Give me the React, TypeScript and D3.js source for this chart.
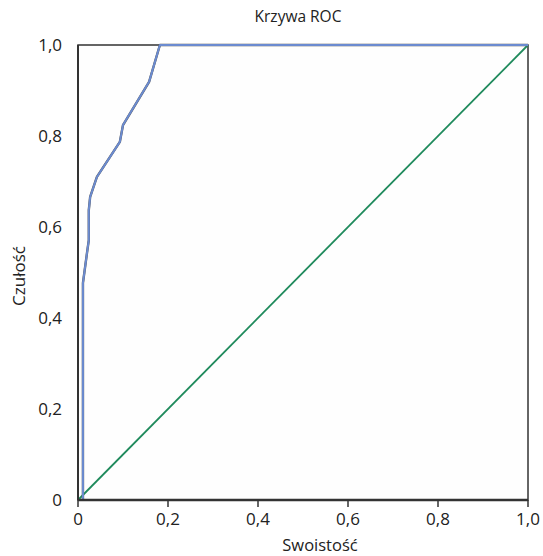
import React, { useRef, useEffect } from 'react'
import * as d3 from 'd3'

// ROC curve points
const rocX = [0.011, 0.011, 0.02, 0.024, 0.024, 0.027, 0.042, 0.093, 0.1, 0.158, 0.182, 1.0]
const rocY = [0, 0.477, 0.543, 0.571, 0.637, 0.666, 0.71, 0.787, 0.824, 0.919, 1.0, 1.0]
const diagX = [0, 1]
const diagY = [0, 1]
const ticks = [0, 0.2, 0.4, 0.6, 0.8, 1.0]
const tickLabels = ['0', '0,2', '0,4', '0,6', '0,8', '1,0']

const layout = { width: 543, height: 556, left: 78, right: 528, top: 45, bottom: 500 }
const font = '"Open Sans", "Noto Sans", sans-serif'

export default function App() {
  const ref = useRef<SVGSVGElement>(null)

  useEffect(() => {
    const svg = d3.select(ref.current)
    svg.selectAll('*').remove()

    const x = d3.scaleLinear().domain([0, 1]).range([layout.left, layout.right])
    const y = d3.scaleLinear().domain([0, 1]).range([layout.bottom, layout.top])

    // frame
    svg.append('rect')
      .attr('x', layout.left).attr('y', layout.top)
      .attr('width', layout.right - layout.left).attr('height', layout.bottom - layout.top)
      .attr('fill', '#fefefe').attr('stroke', '#333').attr('stroke-width', 1.5)

    // diagonal
    const line = d3.line<[number, number]>().x(d => x(d[0])).y(d => y(d[1]))
    svg.append('path')
      .attr('d', line(diagX.map((v, i) => [v, diagY[i]])))
      .attr('fill', 'none').attr('stroke', '#1f8a5c').attr('stroke-width', 1.8)

    // roc curve (dark underlay + blue)
    const pts = rocX.map((v, i) => [v, rocY[i]] as [number, number])
    const roc = d3.line<[number, number]>().x(d => x(d[0])).y(d => y(d[1]))
    svg.append('path')
      .attr('d', roc(pts))
      .attr('fill', 'none').attr('stroke', '#555').attr('stroke-width', 2.4)
      .attr('stroke-linejoin', 'round')
    svg.append('path')
      .attr('d', roc(pts))
      .attr('fill', 'none').attr('stroke', '#6b8bd0').attr('stroke-width', 2)
      .attr('stroke-linejoin', 'round')

    // axes
    svg.append('line')
      .attr('x1', layout.left).attr('x2', layout.right)
      .attr('y1', layout.bottom).attr('y2', layout.bottom)
      .attr('stroke', '#333').attr('stroke-width', 2.5)
    svg.append('line')
      .attr('x1', layout.left).attr('x2', layout.left)
      .attr('y1', layout.top).attr('y2', layout.bottom)
      .attr('stroke', '#333').attr('stroke-width', 2)

    svg.append('g').selectAll('line')
      .data(ticks).join('line')
      .attr('x1', d => x(d)).attr('x2', d => x(d))
      .attr('y1', layout.bottom).attr('y2', layout.bottom + 7)
      .attr('stroke', '#333').attr('stroke-width', 1.5)

    svg.append('g').selectAll('text')
      .data(ticks).join('text')
      .attr('x', d => x(d)).attr('y', layout.bottom + 25)
      .attr('text-anchor', 'middle')
      .attr('font-family', font).attr('font-size', 17).attr('fill', '#222')
      .text((d, i) => tickLabels[i])

    svg.append('g').selectAll('text')
      .data(ticks).join('text')
      .attr('x', layout.left - 16).attr('y', d => y(d) + 6)
      .attr('text-anchor', 'end')
      .attr('font-family', font).attr('font-size', 17).attr('fill', '#222')
      .text((d, i) => tickLabels[i])

    // titles
    svg.append('text')
      .attr('x', 298).attr('y', 22)
      .attr('text-anchor', 'middle')
      .attr('font-family', font).attr('font-size', 15.5).attr('fill', '#222')
      .text('Krzywa ROC')
    svg.append('text')
      .attr('x', 320).attr('y', 551)
      .attr('text-anchor', 'middle')
      .attr('font-family', font).attr('font-size', 16.5).attr('fill', '#222')
      .text('Swoistość')
    svg.append('text')
      .attr('transform', 'translate(25, 276) rotate(-90)')
      .attr('text-anchor', 'middle')
      .attr('font-family', font).attr('font-size', 17).attr('fill', '#222')
      .text('Czułość')
  }, [])

  return (
    <svg ref={ref} width={layout.width} height={layout.height}
      style={{ position: 'absolute', left: 0, top: 0, background: '#fff' }} />
  )
}
